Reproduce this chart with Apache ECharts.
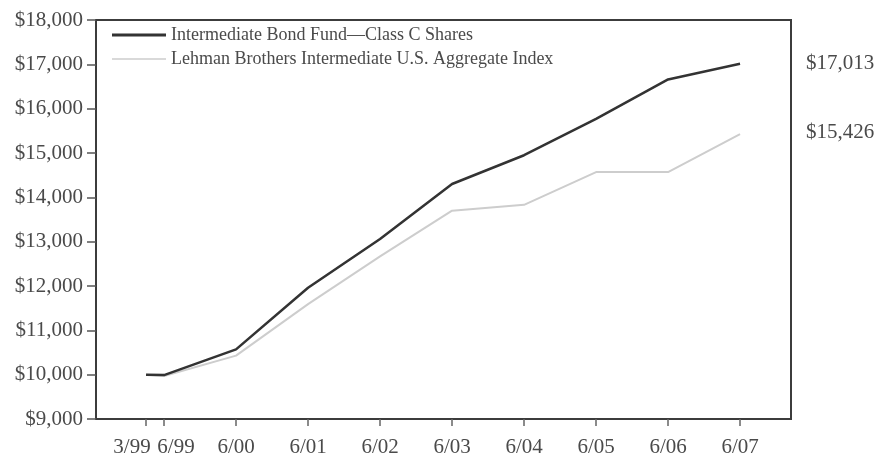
<!DOCTYPE html>
<html>
<head>
<meta charset="utf-8">
<script src="https://cdn.jsdelivr.net/npm/echarts@6/dist/echarts.min.js"></script>
<style>
  html, body { margin: 0; padding: 0; background: #fff; }
  #chart { width: 878px; height: 458px; }
</style>
</head>
<body>
<div id="chart"></div>
<script>
// Time positions are counted in quarters from 3/99 (3/99 = 0, 6/99 = 1, 6/00 = 5, ...)
const periods = [0, 1, 5, 9, 13, 17, 21, 25, 29, 33];
const periodLabels = ['3/99', '6/99', '6/00', '6/01', '6/02', '6/03', '6/04', '6/05', '6/06', '6/07'];

const fundName = 'Intermediate Bond Fund\u2014Class C Shares';
const indexName = 'Lehman Brothers Intermediate U.S. Aggregate Index';

// Growth of a $10,000 investment
const fundValues = [10000, 9990, 10570, 11960, 13060, 14300, 14950, 15770, 16660, 17013];
const indexValues = [10000, 9970, 10430, 11590, 12670, 13700, 13830, 14570, 14570, 15426];

const yTicks = [9000, 10000, 11000, 12000, 13000, 14000, 15000, 16000, 17000, 18000];

const SERIF = '"Liberation Serif", "DejaVu Serif", serif';
const TEXT = '#4a4a4a';
const AXIS_FONT = 21;

function pairs(values) {
  return periods.map((p, i) => [p, values[i]]);
}
function money(v) {
  return '$' + v.toLocaleString('en-US');
}

const chart = echarts.init(document.getElementById('chart'), null, { renderer: 'canvas' });

chart.setOption({
  animation: false,
  backgroundColor: '#fff',
  grid: {
    left: 96, right: 87, top: 20, bottom: 38,
    show: true, borderColor: '#3c3c3c', borderWidth: 2, backgroundColor: 'transparent'
  },
  legend: {
    orient: 'vertical',
    left: 107, top: 21,
    itemWidth: 54, itemHeight: 14, itemGap: 6,
    textStyle: { fontFamily: SERIF, fontSize: 18, color: TEXT },
    data: [
      { name: fundName, icon: 'path://M0,0H54V3H0Z' },
      { name: indexName, icon: 'path://M0,0H54V1.6H0Z' }
    ]
  },
  xAxis: {
    type: 'value',
    min: -2.78, max: 35.83,
    splitLine: { show: false },
    axisLine: { show: false, onZero: false },
    axisTick: {
      show: true, inside: false, length: 7,
      customValues: periods,
      lineStyle: { color: '#666', width: 1.5 }
    },
    axisLabel: {
      customValues: periods,
      margin: 18,
      fontFamily: SERIF, fontSize: AXIS_FONT, color: TEXT,
      formatter: function (v) {
        const i = periods.indexOf(v);
        if (i === 0) return '{l|' + periodLabels[i] + '}';
        if (i === 1) return '{r|' + periodLabels[i] + '}';
        return i >= 0 ? periodLabels[i] : '';
      },
      rich: {
        l: { fontFamily: SERIF, fontSize: AXIS_FONT, color: TEXT, padding: [0, 28, 0, 0] },
        r: { fontFamily: SERIF, fontSize: AXIS_FONT, color: TEXT, padding: [0, 0, 0, 24] }
      }
    }
  },
  yAxis: {
    type: 'value',
    min: yTicks[0], max: yTicks[yTicks.length - 1], interval: 1000,
    splitLine: { show: false },
    axisLine: { show: false, onZero: false },
    axisTick: { show: true, inside: false, length: 9, lineStyle: { color: '#555', width: 1.5 } },
    axisLabel: {
      margin: 13,
      fontFamily: SERIF, fontSize: AXIS_FONT, color: TEXT,
      formatter: function (v) { return money(v); }
    }
  },
  series: [
    {
      name: fundName,
      type: 'line',
      data: pairs(fundValues),
      symbol: 'none',
      lineStyle: { color: '#333333', width: 2.5 },
      itemStyle: { color: '#333333' },
      endLabel: {
        show: true, offset: [58, 0],
        fontFamily: SERIF, fontSize: AXIS_FONT, color: TEXT,
        formatter: function (p) { return money(p.value[1]); }
      },
      z: 3
    },
    {
      name: indexName,
      type: 'line',
      data: pairs(indexValues),
      symbol: 'none',
      lineStyle: { color: '#cdcdcd', width: 2 },
      itemStyle: { color: '#cdcdcd' },
      endLabel: {
        show: true, offset: [58, -2],
        fontFamily: SERIF, fontSize: AXIS_FONT, color: TEXT,
        formatter: function (p) { return money(p.value[1]); }
      },
      z: 2
    }
  ]
});
</script>
</body>
</html>
